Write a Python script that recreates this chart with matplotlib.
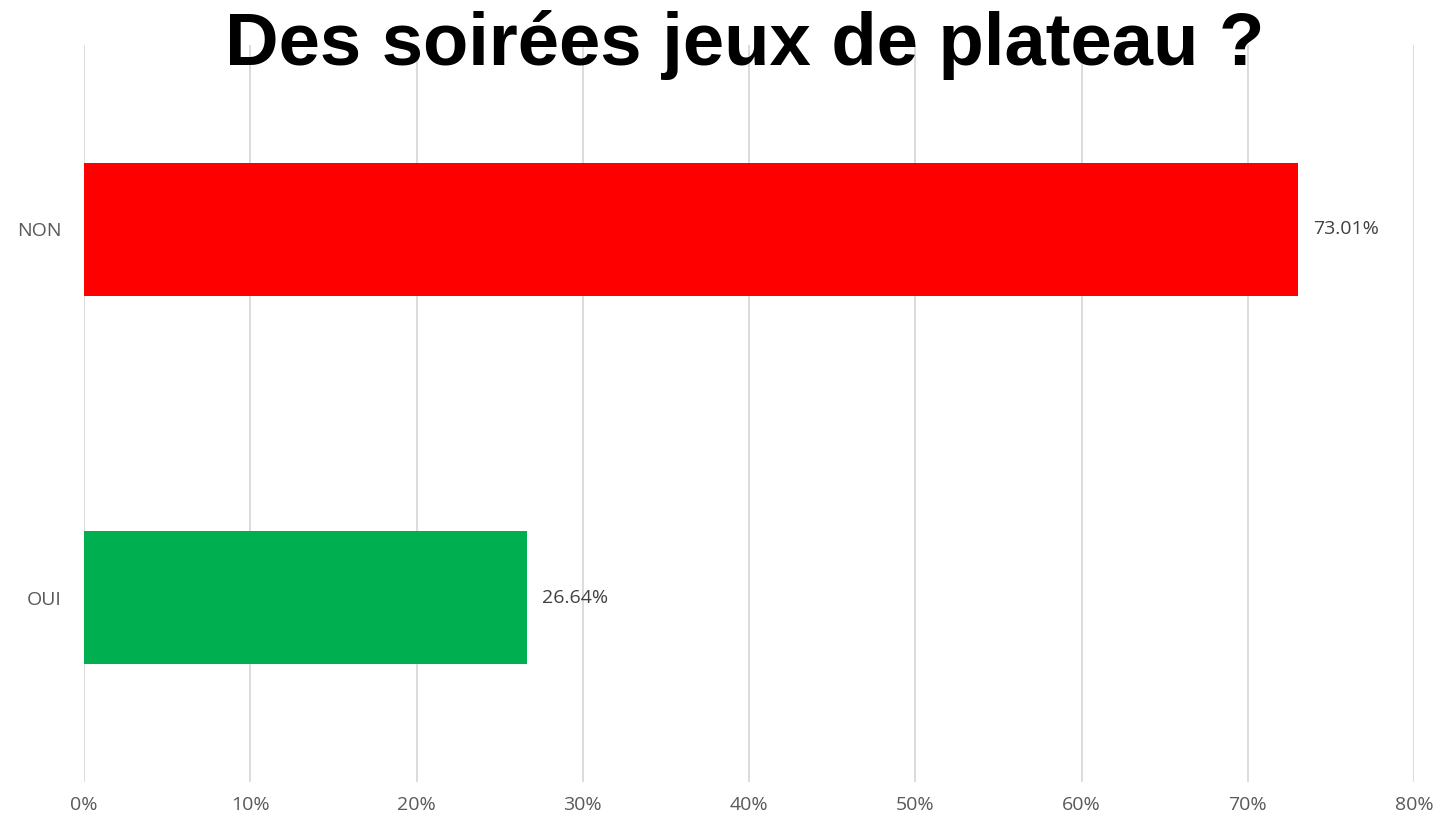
import matplotlib
matplotlib.use("Agg")
import matplotlib.pyplot as plt
from matplotlib.ticker import MultipleLocator, FuncFormatter

# survey answers
categories = ["OUI", "NON"]
values = [26.64, 73.01]
colors = ["#00B050", "#FF0000"]

plt.rcParams['font.family'] = ['Open Sans', 'DejaVu Sans']

fig = plt.figure(figsize=(14.4, 8.26), dpi=100)
ax = fig.add_axes([84 / 1440, 44 / 826, 1330 / 1440, 737 / 826])

bars = ax.barh(categories, values, height=0.36, color=colors, zorder=3)

for b, v in zip(bars, values):
    ax.text(v + 0.9, b.get_y() + b.get_height() / 2, f"{v:.2f}%",
            va="center", ha="left", fontsize=14, color="#404040")

ax.set_xlim(0, 80)
ax.set_ylim(-0.5, 1.5)
ax.xaxis.set_major_locator(MultipleLocator(10))
ax.xaxis.set_major_formatter(FuncFormatter(lambda x, p: f"{x:.0f}%"))
ax.grid(axis="x", color="#D9D9D9", linewidth=1.3, zorder=0)

for s in ax.spines.values():
    s.set_visible(False)
ax.tick_params(axis="both", length=0, labelsize=14, colors="#595959")
ax.tick_params(axis="x", pad=10)
ax.tick_params(axis="y", pad=16)

fig.text(745 / 1440, 0.988, "Des soirées jeux de plateau ?", ha="center", va="top",
         fontsize=53.5, fontweight="bold", family=["Liberation Sans", "DejaVu Sans"])

fig.savefig("out.png", dpi=100)
